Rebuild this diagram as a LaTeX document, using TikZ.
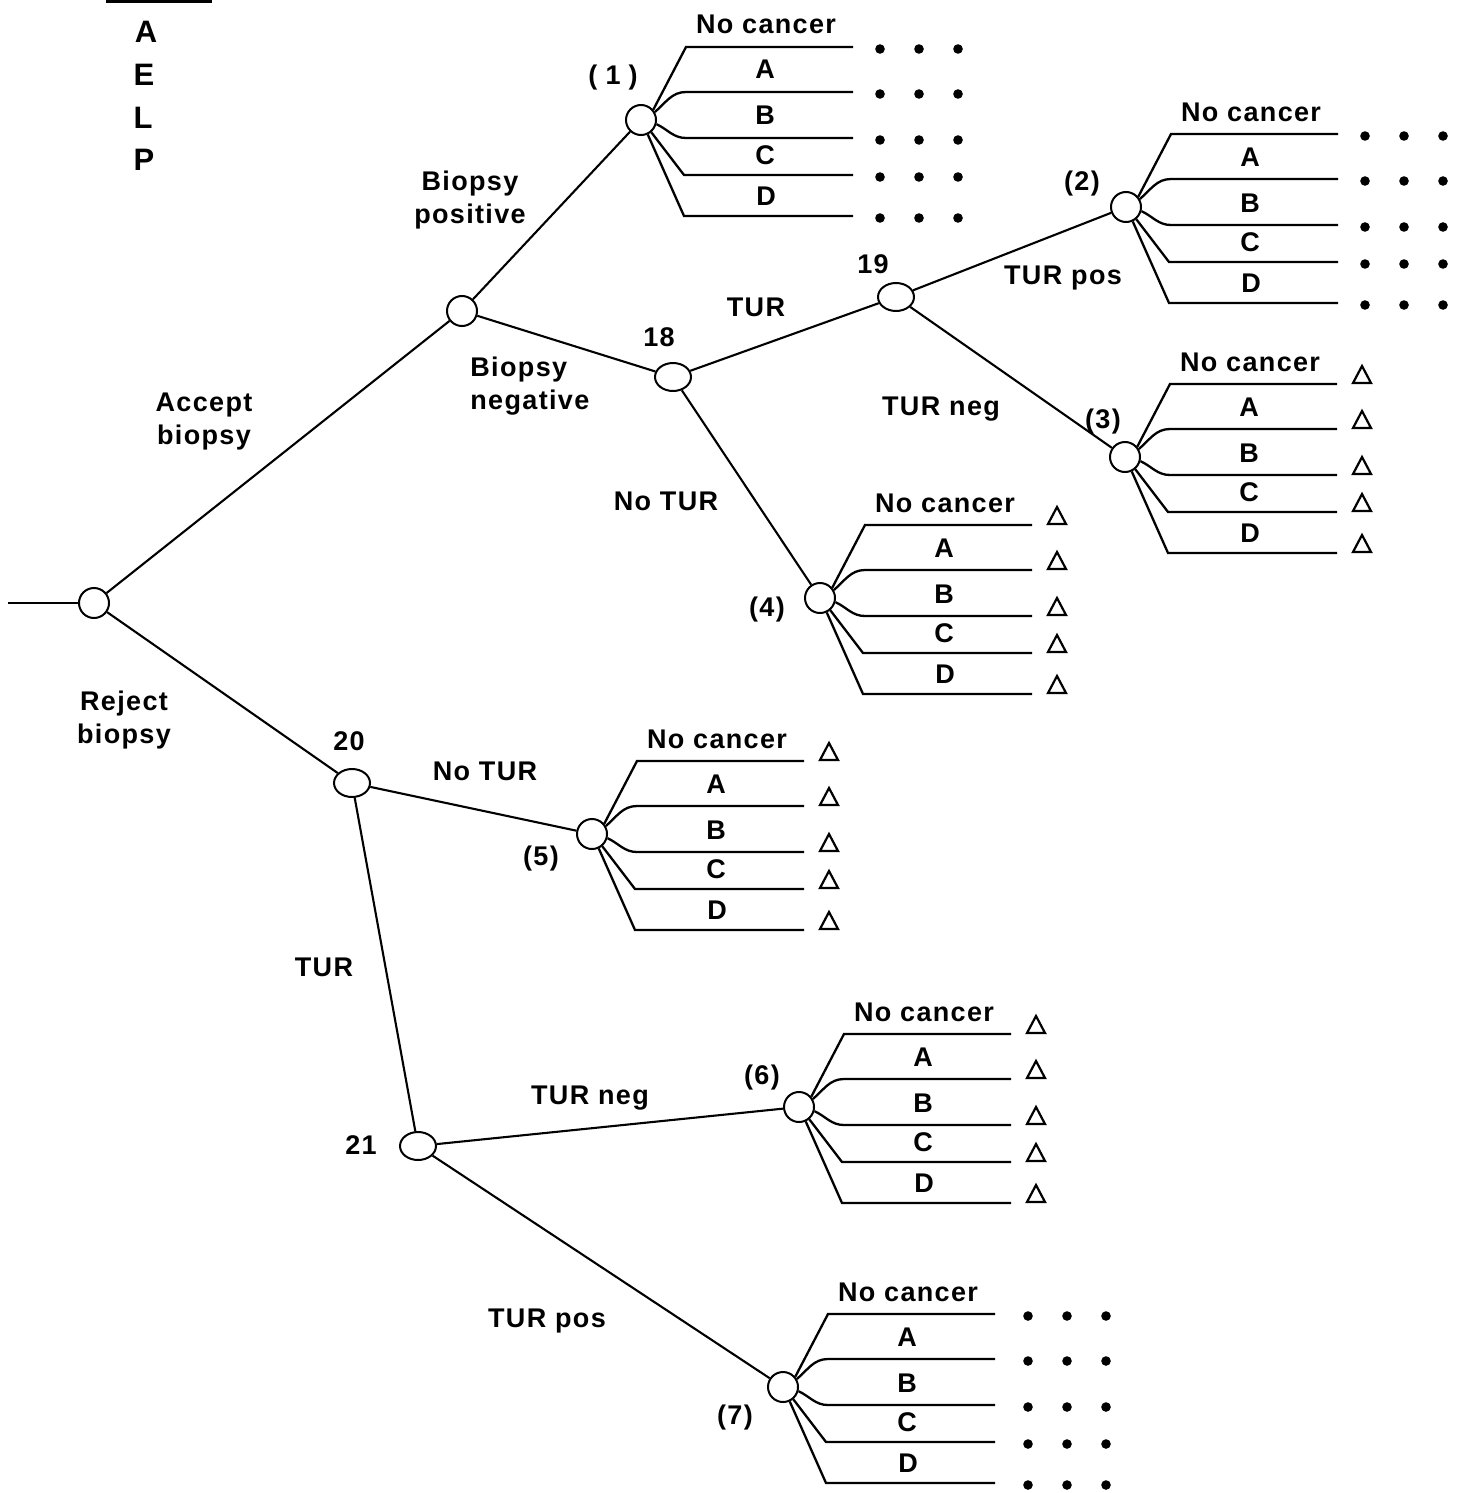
\documentclass[tikz,border=0pt]{standalone}
\usepackage{fontspec}
\setmainfont{Liberation Sans}
\newfontfamily\lblfont{Liberation Sans}[LetterSpace=5]
\newfontfamily\legfont{Liberation Sans}
\usetikzlibrary{shapes.geometric}

\tikzset{
  chance/.style={circle, draw, line width=1pt, minimum size=15pt, inner sep=0pt},
  oval/.style={ellipse, draw, line width=1pt, minimum width=18pt, minimum height=14pt, inner sep=0pt},
  edge/.style={line width=1.05pt},
  br/.style={line width=1.15pt},
  tri/.style={line width=1.1pt, line join=miter},
  lbl/.style={font=\lblfont\bfseries\fontsize{13.5}{16.5}\selectfont, inner sep=0pt},
  leg/.style={font=\legfont\bfseries\fontsize{15.5}{18}\selectfont, inner sep=0pt, anchor=base},
}

% outcome markers
\newcommand\dotsout[1]{%
  \foreach \k in {1,...,5}{\foreach \dx in {27,66,105}{%
    \fill ([shift={(\dx,2)}]#1e\k) circle[radius=2.4pt];}}}
\newcommand\dotsfar[1]{%
  \foreach \k in {1,...,5}{\foreach \dx in {33,72,111}{%
    \fill ([shift={(\dx,2)}]#1e\k) circle[radius=2.4pt];}}}
\newcommand\trisout[1]{%
  \foreach \k in {1,...,5}{%
    \draw[tri] ([shift={(25,-18)}]#1e\k) -- ++(-9,17) -- ++(18,0) -- cycle;}}

% fan of five branches: name, cx, cy, marker macro
\newcommand\fan[4]{%
  \coordinate (#1s1) at ({#2+45},{#3-73});  \coordinate (#1e1) at ({#2+212},{#3-73});
  \coordinate (#1s2) at ({#2+45},{#3-28});  \coordinate (#1e2) at ({#2+212},{#3-28});
  \coordinate (#1s3) at ({#2+45},{#3+18});  \coordinate (#1e3) at ({#2+212},{#3+18});
  \coordinate (#1s4) at ({#2+43},{#3+55});  \coordinate (#1e4) at ({#2+212},{#3+55});
  \coordinate (#1s5) at ({#2+43},{#3+96});  \coordinate (#1e5) at ({#2+212},{#3+96});
  \draw[br] (#1.40) -- (#1s1) -- (#1e1);
  \draw[br] (#1.30) to[out=40,in=180] (#1s2) -- (#1e2);
  \draw[br] (#1.-15) to[out=-25,in=180] (#1s3) -- (#1e3);
  \draw[br] (#1.-50) -- (#1s4) -- (#1e4);
  \draw[br] (#1.-65) -- (#1s5) -- (#1e5);
  \node[lbl, anchor=base] (#1l1) at ({#2+125},{#3-86}) {No cancer};
  \node[lbl, anchor=base] (#1l2) at ({#2+124},{#3-41}) {A};
  \node[lbl, anchor=base] (#1l3) at ({#2+124},{#3+5}) {B};
  \node[lbl, anchor=base] (#1l4) at ({#2+124},{#3+44}) {C};
  \node[lbl, anchor=base] (#1l5) at ({#2+125},{#3+85}) {D};
  #4{#1}%
}

\begin{document}
\begin{tikzpicture}[x=0.5pt,y=-0.5pt]
\useasboundingbox (0,0) rectangle (1463,1493);

% legend
\coordinate (legL) at (106,1.5);
\coordinate (legR) at (212,1.5);
\draw[line width=1.5pt] (legL) -- (legR);
\node[leg] (legA) at (146,43) {A};
\node[leg] (legE) at (144,86) {E};
\node[leg] (legLL) at (143,128) {L};
\node[leg] (legP) at (144,170) {P};

% nodes
\coordinate (start) at (8,603);
\node[chance] (root) at (94,603) {};
\node[chance] (acc) at (462,311) {};
\node[chance] (n1) at (641,120) {};
\node[oval] (n18) at (673,377) {};
\node[oval] (n19) at (896,297) {};
\node[chance] (n2) at (1126,207) {};
\node[chance] (n3) at (1125,457) {};
\node[chance] (n4) at (820,598) {};
\node[oval] (n20) at (352,783) {};
\node[chance] (n5) at (592,834) {};
\node[oval] (n21) at (418,1146) {};
\node[chance] (n6) at (799,1107) {};
\node[chance] (n7) at (783,1387) {};

% main connectors
\draw[edge] (start) -- (root);
\draw[edge] (root) -- (acc);
\draw[edge] (root) -- (n20);
\draw[edge] (acc) -- (n1);
\draw[edge] (acc) -- (n18);
\draw[edge] (n18) -- (n19);
\draw[edge] (n18) -- (n4);
\draw[edge] (n19) -- (n2);
\draw[edge] (n19) -- (n3);
\draw[edge] (n20) -- (n5);
\draw[edge] (n20) -- (n21);
\draw[edge] (n21) -- (n6);
\draw[edge] (n21) -- (n7);

% fans
\fan{n1}{641}{120}{\dotsout}
\fan{n2}{1126}{207}{\dotsout}
\fan{n3}{1125}{457}{\trisout}
\fan{n4}{820}{598}{\trisout}
\fan{n5}{592}{834}{\trisout}
\fan{n6}{799}{1107}{\trisout}
\fan{n7}{783}{1387}{\dotsfar}

% branch labels
\node[lbl, align=center] (tAcc) at (204,422) {Accept\\biopsy};
\node[lbl, align=center] (tRej) at (124,720) {Reject\\biopsy};
\node[lbl, align=center] (tPos) at (470,200) {Biopsy\\positive};
\node[lbl, align=left, anchor=west] (tNeg) at (470,386) {Biopsy\\negative};
\node[lbl, anchor=base] (tTUR1) at (756,316) {TUR};
\node[lbl, anchor=base] (tTP1) at (1063,284) {TUR pos};
\node[lbl, anchor=base] (tTN1) at (941,415) {TUR neg};
\node[lbl, anchor=base] (tNT1) at (666,510) {No TUR};
\node[lbl, anchor=base] (tNT2) at (485,780) {No TUR};
\node[lbl, anchor=base] (tTUR2) at (324,976) {TUR};
\node[lbl, anchor=base] (tTN2) at (590,1104) {TUR neg};
\node[lbl, anchor=base] (tTP2) at (547,1327) {TUR pos};

% node numbers
\node[lbl, anchor=base] (k18) at (659,346) {18};
\node[lbl, anchor=base] (k19) at (873,273) {19};
\node[lbl, anchor=base] (k20) at (349,750) {20};
\node[lbl, anchor=base] (k21) at (361,1154) {21};
\node[lbl, anchor=base] (k1) at (613,85) {(\hspace{0.3em}1\hspace{0.3em})};
\node[lbl, anchor=base] (k2) at (1082,191) {(2)};
\node[lbl, anchor=base] (k3) at (1103,428) {(3)};
\node[lbl, anchor=base] (k4) at (767,616) {(4)};
\node[lbl, anchor=base] (k5) at (541,865) {(5)};
\node[lbl, anchor=base] (k6) at (762,1084) {(6)};
\node[lbl, anchor=base] (k7) at (735,1424) {(7)};
\end{tikzpicture}
\end{document}
